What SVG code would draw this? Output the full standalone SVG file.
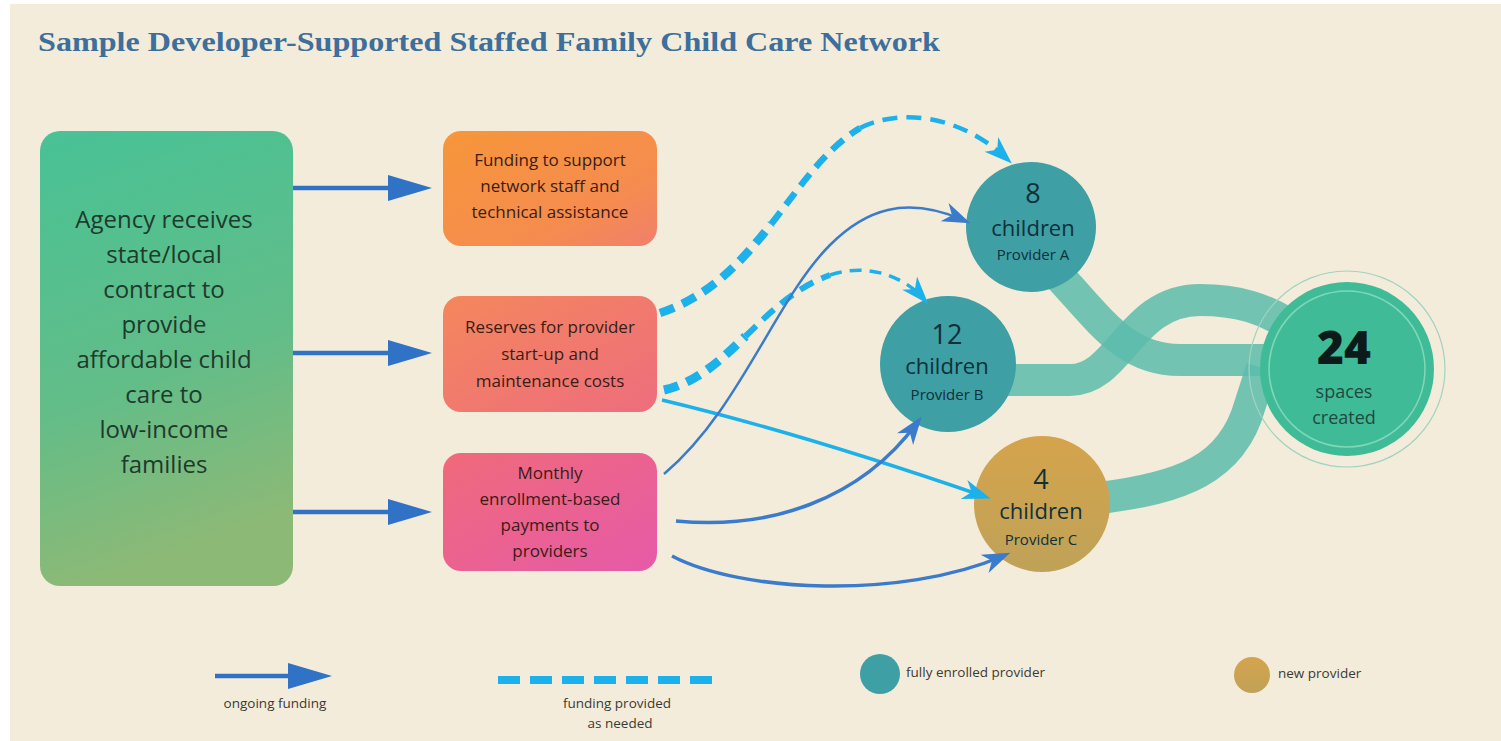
<svg xmlns="http://www.w3.org/2000/svg" width="1501" height="741" viewBox="0 0 1501 741">
<style>
.bg{fill:#f4ecda}
.title{font-family:"Liberation Serif","DejaVu Serif",serif;font-weight:bold;font-size:27px;fill:#3d6f9c}
.t{font-family:"Open Sans","Noto Sans","DejaVu Sans",sans-serif;text-anchor:middle}
.agency{font-size:24px;font-weight:500;fill:#1e3a2c}
.box{font-size:17px;font-weight:500;fill:#3a1c16}
.num{font-size:27px;font-weight:500;fill:#10303a}
.ch{font-size:22px;font-weight:500;fill:#10303a}
.prov{font-size:15px;font-weight:500;fill:#10303a}
.big{font-size:46px;font-weight:800;fill:#0d1a1a}
.sp{font-size:18px;fill:#1f4a40}
.leg{font-size:13.5px;fill:#3a3a34}
.legl{text-anchor:start}
.band{fill:none;stroke:#5cbcab;stroke-width:32;stroke-opacity:0.85}
.main{fill:none;stroke:#2f72c6;stroke-width:4.5}
.blue{fill:none;stroke:#3a7bcc}
.cyan{fill:none;stroke:#1cb1ea}
.dash{fill:none;stroke:#1cb1ea;stroke-dasharray:15 9}
.teal{fill:#3e9fa5}
</style>
<defs>
<linearGradient id="gGreen" x1="0" y1="0" x2="0.2" y2="1">
<stop offset="0" stop-color="#48c296"/>
<stop offset="0.6" stop-color="#62bd88"/>
<stop offset="1" stop-color="#8db976"/>
</linearGradient>
<linearGradient id="gBox1" x1="0" y1="0" x2="1" y2="1">
<stop offset="0" stop-color="#f7963a"/>
<stop offset="0.7" stop-color="#f58c50"/>
<stop offset="1" stop-color="#f07f6c"/>
</linearGradient>
<linearGradient id="gBox2" x1="0" y1="0" x2="1" y2="1">
<stop offset="0" stop-color="#f4875c"/>
<stop offset="1" stop-color="#ee6d7e"/>
</linearGradient>
<linearGradient id="gBox3" x1="0" y1="0" x2="1" y2="1">
<stop offset="0" stop-color="#f06a7a"/>
<stop offset="1" stop-color="#e65aa8"/>
</linearGradient>
<linearGradient id="gGold" x1="0" y1="0" x2="0" y2="1">
<stop offset="0" stop-color="#d5a44c"/>
<stop offset="1" stop-color="#bfa258"/>
</linearGradient>
<marker id="headMain" markerUnits="userSpaceOnUse" markerWidth="50" markerHeight="30" refX="32" refY="13" orient="auto" overflow="visible">
<path d="M0,0 L44,13 L0,26 Z" fill="#2f72c6"/>
</marker>
<marker id="headBlue" markerUnits="userSpaceOnUse" markerWidth="30" markerHeight="24" refX="20" refY="10" orient="auto" overflow="visible">
<path d="M28,10 L0,0 L8,10 L0,20 Z" fill="#3a7bcc"/>
</marker>
<marker id="headCyan" markerUnits="userSpaceOnUse" markerWidth="30" markerHeight="24" refX="20" refY="10" orient="auto" overflow="visible">
<path d="M28,10 L0,0 L8,10 L0,20 Z" fill="#1cb1ea"/>
</marker>
</defs>

<rect x="0" y="0" width="1501" height="741" fill="#ffffff"/>
<rect class="bg" x="10" y="4" width="1491" height="737"/>

<text class="title" x="38" y="51" textLength="902" lengthAdjust="spacingAndGlyphs">Sample Developer-Supported Staffed Family Child Care Network</text>

<g id="bands">
<path class="band" d="M1058,275 C1100,320 1125,360 1180,360 L1275,360"/>
<path class="band" d="M1005,380 L1070,380 C1120,380 1130,300 1200,300 C1240,300 1265,310 1285,322"/>
<path class="band" d="M1100,498 C1180,488 1232,470 1250,405 L1262,368"/>
</g>

<g id="node-agency">
<rect x="40" y="131" width="253" height="455" rx="20" fill="url(#gGreen)"/>
<text class="t agency" x="164" y="228">Agency receives</text>
<text class="t agency" x="164" y="263">state/local</text>
<text class="t agency" x="164" y="298">contract to</text>
<text class="t agency" x="164" y="333">provide</text>
<text class="t agency" x="164" y="368">affordable child</text>
<text class="t agency" x="164" y="403">care to</text>
<text class="t agency" x="164" y="438">low-income</text>
<text class="t agency" x="164" y="473">families</text>
</g>

<g id="node-funding">
<rect x="443" y="131" width="214" height="115" rx="18" fill="url(#gBox1)"/>
<text class="t box" x="550" y="166">Funding to support</text>
<text class="t box" x="550" y="192">network staff and</text>
<text class="t box" x="550" y="218">technical assistance</text>
</g>

<g id="node-reserves">
<rect x="443" y="296" width="214" height="116" rx="18" fill="url(#gBox2)"/>
<text class="t box" x="550" y="333">Reserves for provider</text>
<text class="t box" x="550" y="360">start-up and</text>
<text class="t box" x="550" y="387">maintenance costs</text>
</g>

<g id="node-monthly">
<rect x="443" y="453" width="214" height="118" rx="18" fill="url(#gBox3)"/>
<text class="t box" x="550" y="479">Monthly</text>
<text class="t box" x="550" y="505">enrollment-based</text>
<text class="t box" x="550" y="531">payments to</text>
<text class="t box" x="550" y="557">providers</text>
</g>

<g id="node-providerA">
<circle class="teal" cx="1031" cy="227" r="65"/>
<text class="t num" x="1033" y="203">8</text>
<text class="t ch" x="1033" y="236">children</text>
<text class="t prov" x="1033" y="260">Provider A</text>
</g>

<g id="node-providerB">
<circle class="teal" cx="948" cy="364" r="68"/>
<text class="t num" x="947" y="344">12</text>
<text class="t ch" x="947" y="374">children</text>
<text class="t prov" x="947" y="400">Provider B</text>
</g>

<g id="node-providerC">
<circle cx="1042" cy="504" r="68" fill="url(#gGold)"/>
<text class="t num" x="1041" y="489">4</text>
<text class="t ch" x="1041" y="519">children</text>
<text class="t prov" x="1041" y="545">Provider C</text>
</g>

<g id="node-total">
<circle cx="1347" cy="369" r="98" fill="none" stroke="#9fd4c0" stroke-width="1.2"/>
<circle cx="1347" cy="369" r="87" fill="#40bb97"/>
<circle cx="1347" cy="369" r="78" fill="none" stroke="#7fd8b8" stroke-width="1.5"/>
<text class="t big" x="1344" y="364">24</text>
<text class="t sp" x="1344" y="398">spaces</text>
<text class="t sp" x="1344" y="424">created</text>
</g>

<g id="connectors">
<path class="main" d="M293,188 L420,188" marker-end="url(#headMain)"/>
<path class="main" d="M293,353 L420,353" marker-end="url(#headMain)"/>
<path class="main" d="M293,512 L420,512" marker-end="url(#headMain)"/>

<path class="dash" stroke-width="8.5" d="M660,313 C710,296.5 742.5,260.75 771.25,223.9"/>
<path class="dash" stroke-width="6.5" d="M771.25,223.9 C800,187 825,149 860,128"/>
<path class="dash" stroke-width="4.5" d="M860,128 C900,108 960,115 1006,158" marker-end="url(#headCyan)"/>

<path class="dash" stroke-width="9" d="M664,390 C697,382.5 721,360 745.5,336.25"/>
<path class="dash" stroke-width="6" d="M745.5,336.25 C770,312.5 795,287.5 830,275"/>
<path class="dash" stroke-width="3.5" style="stroke-dasharray:12 8" d="M830,275 C870,262 905,278 923,298" marker-end="url(#headCyan)"/>

<path class="cyan" stroke-width="3.5" d="M662,400 Q800,433 983,496" marker-end="url(#headCyan)"/>

<path class="blue" stroke-width="2.5" d="M664,474 C740,410 775,300 830,245 C865,210 905,195 963,220" marker-end="url(#headBlue)"/>
<path class="blue" stroke-width="3.5" d="M676,521 C770,530 860,500 917,423" marker-end="url(#headBlue)"/>
<path class="blue" stroke-width="3.5" d="M672,556 C740,592 900,600 1003,556" marker-end="url(#headBlue)"/>
</g>

<g id="legend">
<path class="main" d="M215,676 L320,676" marker-end="url(#headMain)"/>
<text class="t leg" x="275" y="708">ongoing funding</text>
<path class="dash" stroke-width="8" style="stroke-dasharray:22 10" d="M498,680 L718,680"/>
<text class="t leg" x="617" y="708">funding provided</text>
<text class="t leg" x="620" y="728">as needed</text>
<circle class="teal" cx="880" cy="674" r="20"/>
<text class="t leg legl" x="906" y="677">fully enrolled provider</text>
<circle cx="1252" cy="675" r="18" fill="url(#gGold)"/>
<text class="t leg legl" x="1278" y="678">new provider</text>
</g>
</svg>
